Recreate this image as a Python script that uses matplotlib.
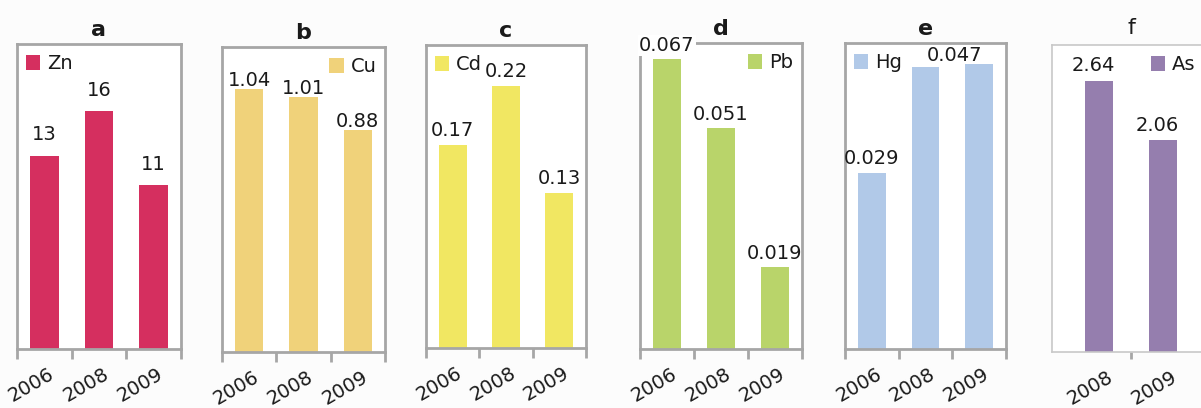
import matplotlib
matplotlib.use("Agg")
import matplotlib.pyplot as plt
from matplotlib.patches import Patch

plt.rcParams['font.family'] = ['DejaVu Sans']

# Data per element
years_abc = ["2006", "2008", "2009"]
years_f = ["2008", "2009"]

zn = [13, 16, 11]
cu = [1.04, 1.01, 0.88]
cd = [0.17, 0.22, 0.13]
pb = [0.067, 0.051, 0.019]
hg = [0.029, 0.0465, 0.047]
as_ = [2.64, 2.06]

zn_labels = ["13", "16", "11"]
cu_labels = ["1.04", "1.01", "0.88"]
cd_labels = ["0.17", "0.22", "0.13"]
pb_labels = ["0.067", "0.051", "0.019"]
hg_labels = ["0.029", "", "0.047"]
as_labels = ["2.64", "2.06"]

W, H = 1201, 408
fig = plt.figure(figsize=(W / 100, H / 100), dpi=100, facecolor="#fcfcfc")

def px_axes(left, right, top, bottom):
    return fig.add_axes([left / W, 1 - bottom / H, (right - left) / W, (bottom - top) / H])

FRAME = "#a6a6a6"
TXT = "#1a1a1a"
FS = 14
LEG_Y = 0.995

panels = [
    dict(t="a", el="Zn", yrs=years_abc, v=zn, lab=zn_labels, c="#d52f5f",
         box=(17, 181, 44, 349), ylim=20.5, gap=11, leg=(0.0, LEG_Y), legloc="upper left"),
    dict(t="b", el="Cu", yrs=years_abc, v=cu, lab=cu_labels, c="#f0d27a",
         box=(222, 385, 47, 352), ylim=1.207, gap=2, leg=(1.0, LEG_Y), legloc="upper right"),
    dict(t="c", el="Cd", yrs=years_abc, v=cd, lab=cd_labels, c="#f1e762",
         box=(426, 586, 45, 348), ylim=0.254, gap=6.5, leg=(0.0, LEG_Y), legloc="upper left"),
    dict(t="d", el="Pb", yrs=years_abc, v=pb, lab=pb_labels, c="#b9d46a",
         box=(640, 802, 43, 349), ylim=0.0707, gap=5.8, leg=(1.0, LEG_Y), legloc="upper right"),
    dict(t="e", el="Hg", yrs=years_abc, v=hg, lab=hg_labels, c="#b1c9e8",
         box=(845, 1006, 43, 349), ylim=0.0505, gap=7, leg=(0.0, LEG_Y), legloc="upper left"),
]

def draw_legend(ax, el, c, anchor, loc, pad=0.05):
    h = [Patch(facecolor=c, edgecolor="none", label=el)]
    lg = ax.legend(handles=h, loc=loc, bbox_to_anchor=anchor, frameon=False,
                   handlelength=0.75, handleheight=0.75, handletextpad=0.35,
                   borderaxespad=pad, prop=dict(size=FS))
    for t in lg.get_texts():
        t.set_color(TXT)

def year_labels(ax, xs, names, dx):
    # rotated year labels hanging below each bar
    for xi, name in zip(xs, names):
        ax.annotate(name, (xi, 0), xycoords=("data", "axes fraction"),
                    xytext=(dx, -17), textcoords="offset points",
                    rotation=30, rotation_mode="anchor", ha="right", va="center",
                    fontsize=FS, color=TXT, annotation_clip=False)

def value_label(ax, bar, text, dx, gap, boxed=False):
    kw = {}
    if boxed:
        kw["bbox"] = dict(boxstyle="square,pad=0.05", fc="white", ec="none")
    ax.annotate(text, (bar.get_x() + bar.get_width() / 2, bar.get_height()),
                xytext=(dx, gap), textcoords="offset points",
                ha="center", va="baseline", fontsize=FS, color=TXT, zorder=5,
                annotation_clip=False, **kw)

for p in panels:
    ax = px_axes(*p["box"])
    ax.set_facecolor("white")
    x = list(range(len(p["yrs"])))
    bars = ax.bar(x, p["v"], width=0.52, color=p["c"], zorder=2)
    ax.set_xlim(-0.5, len(x) - 0.5)
    ax.set_ylim(0, p["ylim"])
    ax.set_yticks([])
    ax.set_xticks([i - 0.5 for i in range(len(x) + 1)])
    ax.set_xticklabels([])
    ax.tick_params(axis="x", which="major", length=7, width=2, color=FRAME)
    for s in ax.spines.values():
        s.set_color(FRAME)
        s.set_linewidth(2)
    ax.set_title(p["t"], fontsize=16, fontweight="bold", color=TXT, pad=6)
    year_labels(ax, x, p["yrs"], 6)
    for i, (b, lab) in enumerate(zip(bars, p["lab"])):
        if not lab:
            continue
        dx = -18 if (p["t"] == "e" and i == 2) else 0
        gap = 2 if (p["t"] == "e" and i == 2) else p["gap"]
        # the tallest lead label sits over the frame line
        boxed = (p["t"] == "d" and i == 0)
        value_label(ax, b, lab, dx, gap, boxed)
    draw_legend(ax, p["el"], p["c"], p["leg"], p["legloc"])

# Panel f: arsenic, two years, lighter frame
axf = px_axes(1052, 1210, 45, 352)
axf.set_facecolor("white")
xf = [0, 1]
bars = axf.bar(xf, as_, width=0.44, color="#957eae", zorder=2)
axf.set_xlim(-0.73, 1.73)
axf.set_ylim(0, 2.99)
axf.set_yticks([])
axf.set_xticks([0.5])
axf.set_xticklabels([])
axf.tick_params(axis="x", which="major", length=5, width=2, color=FRAME)
for s in axf.spines.values():
    s.set_color("#c8c8c8")
    s.set_linewidth(1.2)
axf.set_title("f", fontsize=16, color=TXT, pad=8)
year_labels(axf, xf, years_f, 9)
for b, lab in zip(bars, as_labels):
    value_label(axf, b, lab, -4, 7)
draw_legend(axf, "As", "#957eae", (0.57, LEG_Y), "upper left")

fig.savefig("out.png", dpi=100, facecolor=fig.get_facecolor())
